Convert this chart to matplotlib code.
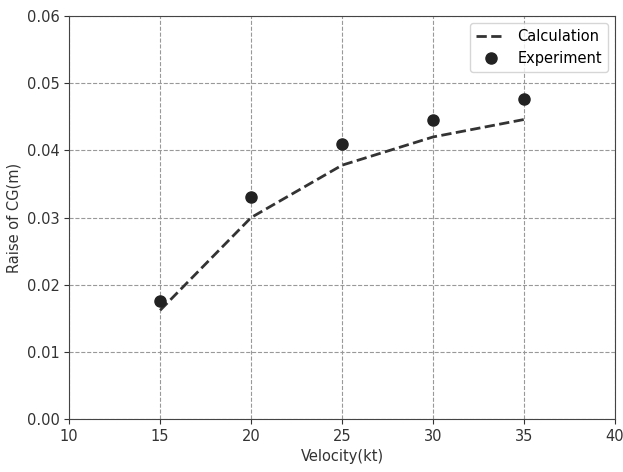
import matplotlib
matplotlib.use("Agg")
import matplotlib.pyplot as plt

velocity = [15, 20, 25, 30, 35]
calc = [0.0162, 0.0300, 0.0378, 0.0420, 0.0446]
exp = [0.0176, 0.0330, 0.0409, 0.0446, 0.0476]

plt.rcParams['font.family'] = ['DejaVu Sans']
plt.rcParams['font.size'] = 10.5

fig = plt.figure(figsize=(6.23, 4.72), dpi=100)
ax = fig.add_axes([0.111, 0.112, 0.876, 0.854])

ax.plot(velocity, calc, '--', color='#333333', linewidth=2, label='Calculation')
ax.plot(velocity, exp, 'o', color='#222222', markersize=8, label='Experiment')

ax.set_xlim(10, 40)
ax.set_ylim(0, 0.06)
ax.set_xticks([10, 15, 20, 25, 30, 35, 40])
ax.set_yticks([0.00, 0.01, 0.02, 0.03, 0.04, 0.05, 0.06])
ax.set_yticklabels(['0.00', '0.01', '0.02', '0.03', '0.04', '0.05', '0.06'])
ax.grid(True, linestyle='--', color='#999999', linewidth=0.8)
for s in ax.spines.values():
    s.set_color('#444444')
ax.tick_params(colors='#333333')
ax.set_xlabel("Velocity(kt)", color='#333333')
ax.set_ylabel("Raise of CG(m)", color='#333333')
ax.legend(loc='upper right', fontsize=10.5)

plt.savefig("out.png", dpi=100)
